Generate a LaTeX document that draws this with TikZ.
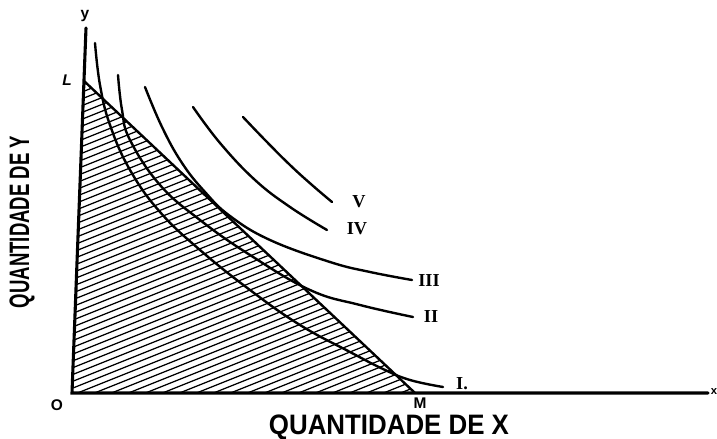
\documentclass[tikz,border=0pt]{standalone}
\usepackage{fontspec}
\newfontfamily\labfont{Liberation Sans}
\newfontfamily\numfont{Liberation Serif}
\usetikzlibrary{positioning,calc}

\begin{document}
\begin{tikzpicture}[x=0.025cm, y=-0.025cm,
  ax/.style={line width=2.2pt, line cap=round},
  cv/.style={line width=1.7pt, line cap=round},
  hatch/.style={line width=0.9pt},
  num/.style={font=\numfont\bfseries\fontsize{13}{13}\selectfont, inner sep=0pt},
  pt/.style={font=\labfont\bfseries\fontsize{11}{11}\selectfont, inner sep=0pt},
  axlab/.style={font=\labfont\bfseries\fontsize{20}{20}\selectfont, inner sep=0pt}]
\useasboundingbox (0,0) rectangle (717,439);
\coordinate (O) at (72,393);
\coordinate (ytop) at (86,28);
\coordinate (xend) at (708,393);
\coordinate (L) at (84,81);
\coordinate (M) at (415,393);
% hatched budget set
\begin{scope}
\clip (O) -- (L) -- (M) -- cycle;
\foreach \c in {60,66.8,...,560}
  \draw[hatch] (60,\c) -- (440,\c-152);
\end{scope}
\draw[cv] (L) -- (M);
\draw[ax] (ytop) -- (O) -- (xend);
% indifference curves
\draw[cv] plot[smooth, tension=0.7] coordinates {(95,43) (100,85) (110,125) (130,170) (160,212) (200,250) (250,290) (300,325) (350,352) (383,369) (410,380) (443,387)};
\draw[cv] plot[smooth, tension=0.7] coordinates {(118,75) (122,110) (130,140) (160,185) (200,220) (250,255) (310,290) (360,305) (413,317)};
\draw[cv] plot[smooth, tension=0.7] coordinates {(145,87) (162,127) (182,163) (205,192) (230,216) (270,240) (330,262) (370,272) (412,280)};
\draw[cv] plot[smooth, tension=0.7] coordinates {(193,107) (220,143) (255,180) (290,207) (327,230)};
\draw[cv] plot[smooth, tension=0.7] coordinates {(243,117) (265,140) (290,165) (312,185) (332,202)};
\node[num] (n1) at (462,384) {I.};
\node[num] (n2) at (431,317) {II};
\node[num] (n3) at (429,281) {III};
\node[num] (n4) at (357,229) {IV};
\node[num] (n5) at (359,202) {V};
\node[pt] (ly) at (85,16) {y};
\node[pt, font=\labfont\bfseries\itshape\fontsize{11}{11}\selectfont] (lL) at (67,80) {L};
\node[pt] (lO) at (57,405) {O};
\node[pt] (lM) at (420,403) {M};
\node[pt, font=\labfont\bfseries\fontsize{8}{8}\selectfont] (lx) at (714,392) {x};
\node[axlab] (xlab) at (389,427) {\scalebox{0.92}[1]{QUANTIDADE DE X}};
\node[axlab, rotate=90] (ylab) at (22,222) {\scalebox{0.66}[1]{QUANTIDADE DE Y}};
\end{tikzpicture}
\end{document}
